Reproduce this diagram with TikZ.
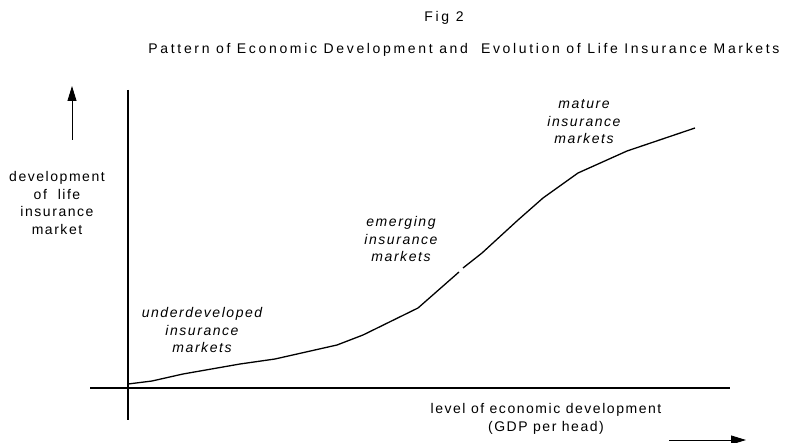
\documentclass[tikz,border=0pt]{standalone}
\usepackage{fontspec}
\setmainfont{Liberation Sans}
\newfontfamily\widefont[LetterSpace=11]{Liberation Sans}
\newfontfamily\titlefont[LetterSpace=19]{Liberation Sans}
\usetikzlibrary{arrows.meta}
\tikzset{
  lbl/.style={align=center, font=\widefont\fontsize{14}{17.5}\selectfont, inner sep=0pt},
  mkt/.style={lbl, font=\widefont\fontsize{14}{17.5}\selectfont\itshape},
  axis/.style={line width=2.6pt},
  dirarrow/.style={line width=0.9pt, -{Triangle[length=15pt,width=9pt]}}
}
\begin{document}
\begin{tikzpicture}[x=1pt,y=-1pt]
	\useasboundingbox (0,0) rectangle (786,443);
	\node[lbl, font=\titlefont\fontsize{14}{17}\selectfont] (fig) at (444,18) {Fig 2};
	\node[lbl, font=\titlefont\fontsize{14}{17}\selectfont] (title) at (464,50) {Pattern of Economic Development and \ Evolution of Life Insurance Markets};
	% axes
	\draw[axis] (128,90) -- (128,420);
	\draw[axis] (90,388) -- (730,388);
	% direction arrows
	\coordinate (up0) at (72,140);
	\coordinate (up1) at (72,86);
	\draw[dirarrow] (up0) -- (up1);
	\coordinate (rt0) at (669,440);
	\coordinate (rt1) at (746,440);
	\draw[dirarrow] (rt0) -- (rt1);
	\node[lbl] (ylab) at (57,203) {development\\of \ life\\insurance\\market};
	\node[lbl] (xlab) at (546,419) {level of economic development\\(GDP per head)};
	% curve
	\draw[line width=1.3pt, line join=round] (128,384) -- (152,381) -- (183,374) -- (240,364) -- (275,359) -- (337,345) -- (363,335) -- (418,308) -- (459,272);
	\draw[line width=1.3pt, line join=round] (463,268) -- (482,253) -- (518,220) -- (543,198) -- (578,173) -- (627,151) -- (695,128);
	\node[mkt] (under) at (202,330) {underdeveloped\\insurance\\markets};
	\node[mkt] (emerg) at (401,239) {emerging\\insurance\\markets};
	\node[mkt] (mature) at (584,122) {mature\\insurance\\markets};
\end{tikzpicture}
\end{document}
